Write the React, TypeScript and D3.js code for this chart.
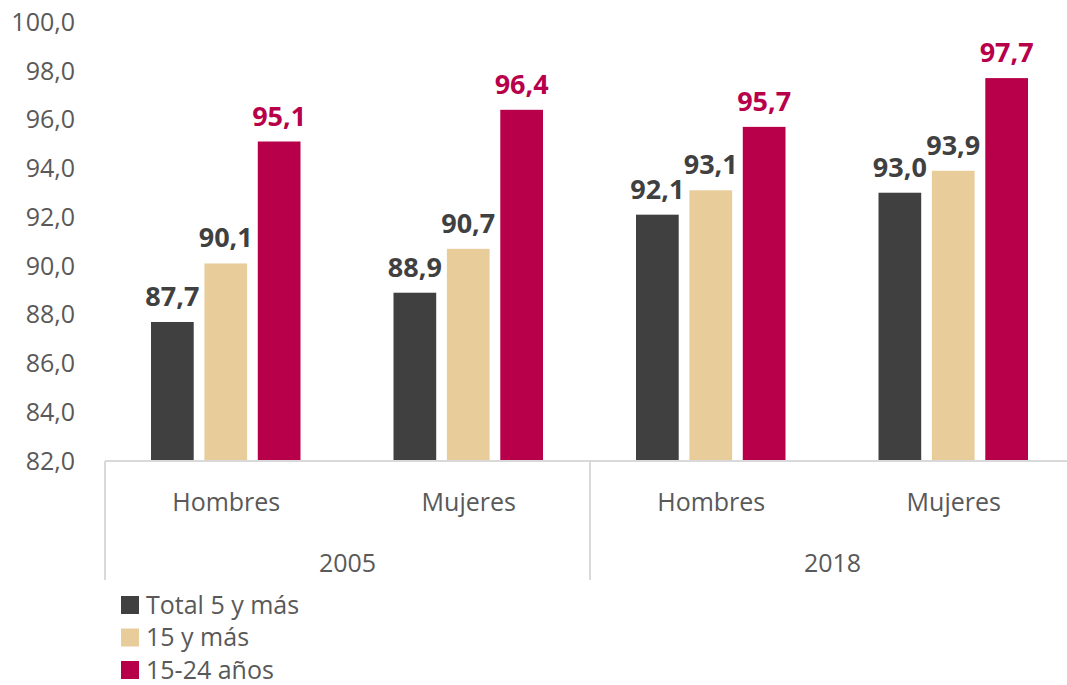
import React from "react";
import * as d3 from "d3";

const years = ["2005", "2018"];
const categories = ["Hombres", "Mujeres", "Hombres", "Mujeres"];
const seriesNames = ["Total 5 y más", "15 y más", "15-24 años"];
const seriesColors = ["#404040", "#E8CD9B", "#B8004A"];
const labelColors = ["#404040", "#404040", "#B8004A"];
const total5 = [87.7, 88.9, 92.1, 93.0];
const mas15 = [90.1, 90.7, 93.1, 93.9];
const jov15_24 = [95.1, 96.4, 95.7, 97.7];
const yTicks = [82, 84, 86, 88, 90, 92, 94, 96, 98, 100];

const W = 1067;
const H = 685;
const left = 105;
const right = 1075;
const top = 22;
const bottom = 461;
const font = "'Open Sans', 'Segoe UI', sans-serif";

export default function App() {
  const series = [total5, mas15, jov15_24];
  const x = d3.scaleBand<number>().domain(d3.range(categories.length)).range([left, right]).paddingInner(0).paddingOuter(0);
  const xs = d3.scaleBand<number>().domain(d3.range(series.length)).range([46, x.bandwidth() - 47]).paddingInner(0.2).paddingOuter(0);
  const y = d3.scaleLinear().domain([82, 100]).range([bottom, top]);
  const fmt = (v: number) => v.toFixed(1).replace(".", ",");
  const yearX = d3.scaleBand<string>().domain(years).range([left, right]);

  return (
    <svg width={W} height={H} style={{ position: "absolute", left: 0, top: 0, fontFamily: font }}>
      <rect width={W} height={H} fill="#fff" />
      {yTicks.map((t) => (
        <text key={t} x={75} y={y(t)} dy="0.35em" textAnchor="end" fontSize={25} fill="#595959">
          {fmt(t)}
        </text>
      ))}
      {series.map((vals, si) =>
        vals.map((v, ci) => {
          const bx = (x(ci) as number) + (xs(si) as number);
          const bw = xs.bandwidth();
          return (
            <g key={`${si}-${ci}`}>
              <rect x={bx} y={y(v)} width={bw} height={bottom - y(v)} fill={seriesColors[si]} />
              <text x={bx + bw / 2} y={y(v) - 16} textAnchor="middle" fontSize={27} fontWeight="bold" fill={labelColors[si]}>
                {fmt(v)}
              </text>
            </g>
          );
        })
      )}
      <line x1={left} x2={W} y1={bottom} y2={bottom} stroke="#D9D9D9" strokeWidth={2} />
      {[left, yearX("2018") as number].map((sx, i) => (
        <line key={i} x1={sx} x2={sx} y1={bottom} y2={580} stroke="#D9D9D9" strokeWidth={2} />
      ))}
      {categories.map((c, ci) => (
        <text key={ci} x={(x(ci) as number) + x.bandwidth() / 2} y={502} dy="0.35em" textAnchor="middle" fontSize={25} fill="#595959">
          {c}
        </text>
      ))}
      {years.map((yr) => (
        <text key={yr} x={(yearX(yr) as number) + yearX.bandwidth() / 2} y={563} dy="0.35em" textAnchor="middle" fontSize={25} fill="#595959">
          {yr}
        </text>
      ))}
      {seriesNames.map((n, i) => (
        <g key={n} transform={`translate(121, ${605 + i * 32.5})`}>
          <rect x={0} y={-9} width={18} height={18} fill={seriesColors[i]} />
          <text x={25} y={0} dy="0.35em" fontSize={25} fill="#595959">
            {n}
          </text>
        </g>
      ))}
    </svg>
  );
}
